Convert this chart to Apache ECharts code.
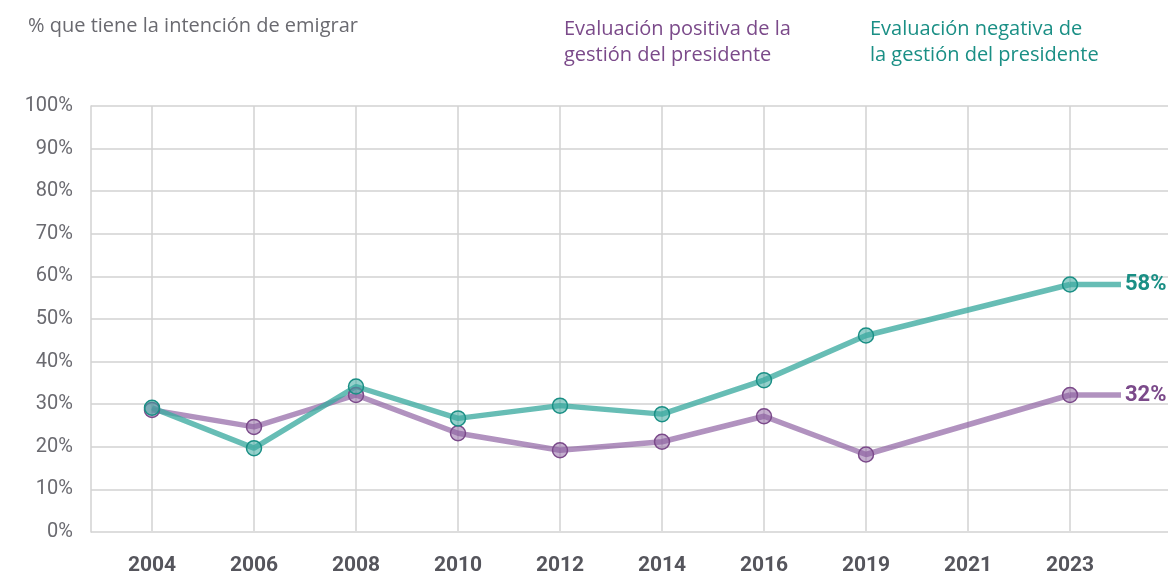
<!DOCTYPE html>
<html>
<head>
<meta charset="utf-8">
<script src="https://cdn.jsdelivr.net/npm/echarts@6/dist/echarts.min.js"></script>
<style>
  html, body { margin: 0; padding: 0; background: #fff; }
  #chart { width: 1168px; height: 576px; }
</style>
</head>
<body>
<div id="chart"></div>
<script>
(function() {
  'use strict';

  var years = ['2004', '2006', '2008', '2010', '2012', '2014', '2016', '2019', '2021', '2023'];
  // 2021 has no survey point, the line just runs across it
  var negativa = [29, 19.5, 34, 26.5, 29.5, 27.5, 35.5, 46, null, 58];
  var positiva = [28.5, 24.5, 32, 23, 19, 21, 27, 18, null, 32];
  var yTicks = [0, 10, 20, 30, 40, 50, 60, 70, 80, 90, 100];

  var TEAL = '#1a8f85';
  var TEAL_LINE = 'rgba(60,170,160,0.78)';
  var TEAL_FILL = 'rgba(60,170,160,0.55)';
  var PURPLE = '#7b4a8a';
  var PURPLE_LINE = 'rgba(140,95,160,0.68)';
  var PURPLE_FILL = 'rgba(140,95,160,0.5)';
  var FONT = 'Roboto';
  var TEXT_FONT = 'Open Sans';

  var chart = echarts.init(document.getElementById('chart'));

  function lastOf(arr) {
    return arr[arr.length - 1];
  }

  function mainSeries(name, data, line, fill, dark) {
    return {
      name: name,
      type: 'line',
      xAxisIndex: 0,
      yAxisIndex: 0,
      data: data,
      connectNulls: true,
      symbol: 'circle',
      symbolSize: 15,
      z: 3,
      lineStyle: { color: line, width: 5.5 },
      itemStyle: { color: fill, borderColor: dark, borderWidth: 1.5 },
      emphasis: { disabled: true }
    };
  }

  // short flat stub after 2023 carrying the end label
  function tailSeries(data, line, dark) {
    var last = lastOf(data);
    var n = years.length;
    return {
      type: 'line',
      xAxisIndex: 1,
      yAxisIndex: 0,
      data: [[n - 0.5, last], [n, last]],
      symbol: 'none',
      z: 2,
      lineStyle: { color: line, width: 5.5 },
      endLabel: {
        show: true,
        formatter: last + '%',
        color: dark,
        fontFamily: FONT,
        fontWeight: 'bold',
        fontSize: 22,
        distance: 4
      },
      emphasis: { disabled: true }
    };
  }

  var option = {
    animation: false,
    backgroundColor: '#fff',
    title: [
      {
        text: '% que tiene la intención de emigrar',
        left: 23, top: 11,
        textStyle: { fontFamily: TEXT_FONT, fontSize: 20, fontWeight: 'normal', color: '#6a6a70' }
      },
      {
        text: 'Evaluación positiva de la\ngestión del presidente',
        left: 559, top: 11,
        textStyle: { fontFamily: TEXT_FONT, fontSize: 20, fontWeight: 'normal', color: PURPLE, lineHeight: 26 }
      },
      {
        text: 'Evaluación negativa de\nla gestión del presidente',
        left: 865, top: 11,
        textStyle: { fontFamily: TEXT_FONT, fontSize: 20, fontWeight: 'normal', color: TEAL, lineHeight: 26 }
      }
    ],
    grid: [
      { left: 101, right: 47, top: 106, bottom: 44 },
      { left: 91, right: 0, top: 106, bottom: 44 }
    ],
    xAxis: [
      {
        type: 'category',
        gridIndex: 0,
        data: years,
        boundaryGap: true,
        axisLine: { show: false },
        axisTick: { show: false },
        axisLabel: { margin: 24, fontFamily: FONT, fontSize: 21, fontWeight: 'bold', color: '#55555c' },
        splitLine: { show: true, alignWithLabel: true, lineStyle: { color: '#d2d2d2', width: 1.5 } }
      },
      {
        type: 'value',
        gridIndex: 0,
        min: 0,
        max: years.length,
        show: false
      },
      {
        type: 'value',
        gridIndex: 1,
        min: 0,
        max: 1,
        show: false
      }
    ],
    yAxis: [
      {
        type: 'value',
        gridIndex: 0,
        min: 0,
        max: 100,
        show: false
      },
      {
        type: 'value',
        gridIndex: 1,
        min: yTicks[0],
        max: yTicks[yTicks.length - 1],
        interval: 10,
        axisLine: { show: true, lineStyle: { color: '#d2d2d2', width: 1.5 } },
        axisTick: { show: false },
        axisLabel: {
          margin: 18, fontFamily: FONT, fontSize: 20, color: '#6a6a70',
          formatter: function(v) { return v + '%'; }
        },
        splitLine: { lineStyle: { color: '#d2d2d2', width: 1.5 } }
      }
    ],
    series: [
      tailSeries(positiva, PURPLE_LINE, PURPLE),
      tailSeries(negativa, TEAL_LINE, TEAL),
      mainSeries('Evaluación positiva de la gestión del presidente', positiva, PURPLE_LINE, PURPLE_FILL, PURPLE),
      mainSeries('Evaluación negativa de la gestión del presidente', negativa, TEAL_LINE, TEAL_FILL, TEAL)
    ]
  };

  chart.setOption(option);
})();
</script>
</body>
</html>
